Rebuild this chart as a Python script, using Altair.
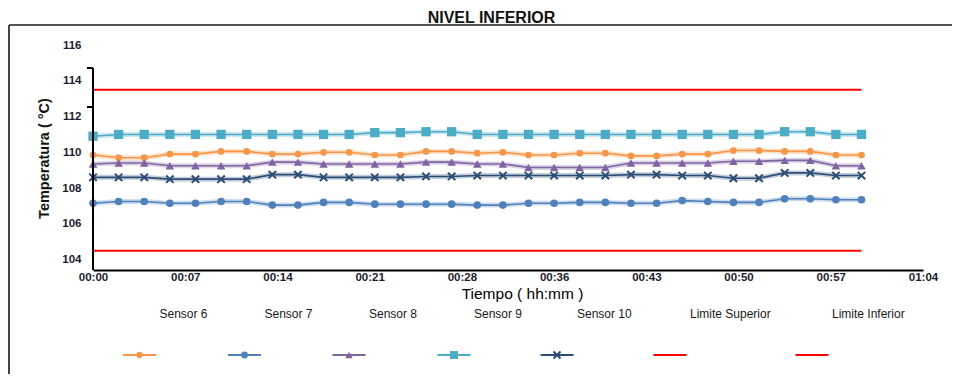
import altair as alt
import pandas as pd

# ---------------- data ----------------
minutes = [0, 2, 4, 6, 8, 10, 12, 14, 16, 18, 20, 22, 24, 26, 28, 30,
           32, 34, 36, 38, 40, 42, 44, 46, 48, 50, 52, 54, 56, 58, 60]

sensor6 = [109.85, 109.7, 109.7, 109.9, 109.9, 110.05, 110.05, 109.9, 109.9, 110.0, 110.0,
           109.85, 109.85, 110.05, 110.05, 109.95, 110.0, 109.85, 109.85, 109.95, 109.95,
           109.8, 109.8, 109.9, 109.9, 110.1, 110.1, 110.05, 110.05, 109.85, 109.85]
sensor7 = [107.15, 107.25, 107.25, 107.15, 107.15, 107.25, 107.25, 107.05, 107.05, 107.2, 107.2,
           107.1, 107.1, 107.1, 107.1, 107.05, 107.05, 107.15, 107.15, 107.2, 107.2,
           107.15, 107.15, 107.3, 107.25, 107.2, 107.2, 107.4, 107.4, 107.35, 107.35]
sensor8 = [109.35, 109.4, 109.4, 109.25, 109.25, 109.25, 109.25, 109.45, 109.45, 109.35, 109.35,
           109.35, 109.35, 109.45, 109.45, 109.35, 109.35, 109.15, 109.15, 109.15, 109.15,
           109.4, 109.4, 109.4, 109.4, 109.5, 109.5, 109.55, 109.55, 109.25, 109.25]
sensor9 = [110.9, 111.0, 111.0, 111.0, 111.0, 111.0, 111.0, 111.0, 111.0, 111.0, 111.0,
           111.1, 111.1, 111.15, 111.15, 111.0, 111.0, 111.0, 111.0, 111.0, 111.0,
           111.0, 111.0, 111.0, 111.0, 111.0, 111.0, 111.15, 111.15, 111.0, 111.0]
sensor10 = [108.6, 108.6, 108.6, 108.5, 108.5, 108.5, 108.5, 108.75, 108.75, 108.6, 108.6,
            108.6, 108.6, 108.65, 108.65, 108.7, 108.7, 108.7, 108.7, 108.7, 108.7,
            108.75, 108.75, 108.7, 108.7, 108.55, 108.55, 108.85, 108.85, 108.7, 108.7]

limite_superior = 113.5
limite_inferior = 104.5
limit_minutes = [0, 60]

tick_minutes = [0, 7.2, 14.4, 21.6, 28.8, 36.0, 43.2, 50.4, 57.6, 64.8]
tick_labels = ["00:00", "00:07", "00:14", "00:21", "00:28", "00:36",
               "00:43", "00:50", "00:57", "01:04"]
y_ticks = [104, 106, 108, 110, 112, 114, 116]

series_names = ["Sensor 6", "Sensor 7", "Sensor 8", "Sensor 9", "Sensor 10"]
series_colors = ["#F79646", "#4F81BD", "#8064A2", "#4BACC6", "#2C4D75"]
limit_names = ["Limite Superior", "Limite Inferior"]
limit_color = "#FF0000"

legend_names = series_names + limit_names
legend_colors = series_colors + [limit_color, limit_color]
legend_slots = [0, 1, 2, 3, 4, 5, 6]

X_PATH = "M-1,-1L1,1M-1,1L1,-1"
shape_range = ["circle", "circle", "triangle-up", "square", X_PATH]
size_range = [45, 100, 75, 100, 55]
legend_size_range = [40, 70, 60, 55, 49]

# ---------------- tables ----------------
values = [sensor6, sensor7, sensor8, sensor9, sensor10]
rows = []
for name, vals in zip(series_names, values):
    for m, v in zip(minutes, vals):
        rows.append({"minute": m, "value": v, "series": name})
df = pd.DataFrame(rows)

lim_rows = []
for name, v in zip(limit_names, [limite_superior, limite_inferior]):
    for m in limit_minutes:
        lim_rows.append({"minute": m, "value": v, "series": name})
df_lim = pd.DataFrame(lim_rows)

df_leg = pd.DataFrame({"name": legend_names, "slot": legend_slots})
df_one = pd.DataFrame({"a": [0]})

label_expr = " : ".join(f"datum.value == {v} ? '{l}'" for v, l in zip(tick_minutes, tick_labels)) + " : ''"

FONT = "Liberation Sans"
LABEL_COLOR = "#1c1c30"

x_enc = alt.X(
    "minute:Q",
    title="Tiempo ( hh:mm )",
    scale=alt.Scale(domain=[0, 64.8], nice=False, zero=False),
    axis=alt.Axis(
        values=tick_minutes, labelExpr=label_expr, grid=False, ticks=False,
        domainColor="#000000", domainWidth=2, labelPadding=1,
        labelFont=FONT, labelFontSize=11.5, labelFontWeight="bold", labelColor=LABEL_COLOR,
        labelFlush=False, labelOverlap=False, labelBound=False,
        titleFont=FONT, titleFontSize=15.5, titleFontWeight="normal", titleColor="#000000",
        titleX=429, titleY=28, titleBaseline="alphabetic",
    ),
)
y_enc = alt.Y(
    "value:Q",
    title="Temperatura ( °C)",
    scale=alt.Scale(domain=[103.42, 116], nice=False, zero=False),
    axis=alt.Axis(
        values=y_ticks, grid=False, ticks=False, domain=False, labelPadding=12,
        labelFont=FONT, labelFontSize=11.5, labelFontWeight="bold", labelColor=LABEL_COLOR,
        titleFont=FONT, titleFontSize=14.5, titleFontWeight="bold", titleColor="#111111",
        titleX=-49, titleY=113, titleAngle=-90, titleAlign="center", titleBaseline="middle",
    ),
)
color_enc = alt.Color("series:N", scale=alt.Scale(domain=series_names, range=series_colors), legend=None)

base = alt.Chart(df)
halo = base.mark_line(strokeWidth=5, opacity=0.28).encode(x=x_enc, y=y_enc, color=color_enc, detail="series:N")
line = base.mark_line(strokeWidth=1.6).encode(x=x_enc, y=y_enc, color=color_enc, detail="series:N")
pts = base.transform_filter(alt.datum.series != "Sensor 10").mark_point(filled=True, opacity=1).encode(
    x=x_enc, y=y_enc, color=color_enc,
    shape=alt.Shape("series:N", scale=alt.Scale(domain=series_names, range=shape_range), legend=None),
    size=alt.Size("series:N", scale=alt.Scale(domain=series_names, range=size_range), legend=None),
)
pts_x = base.transform_filter(alt.datum.series == "Sensor 10").mark_point(
    shape=X_PATH, filled=False, strokeWidth=2, size=55, opacity=1
).encode(x=x_enc, y=y_enc, color=color_enc)
limits = alt.Chart(df_lim).mark_line(strokeWidth=2, color=limit_color).encode(
    x=x_enc, y=y_enc, detail="series:N"
)
main = alt.layer(halo, line, pts, pts_x, limits)

# ---------------- legend (own piecewise scale) ----------------
leg_x = alt.X("slot:Q", scale=alt.Scale(domain=legend_slots, range=[46.5, 151.5, 256, 361, 464, 577, 719],
                                        nice=False, zero=False), axis=None)
leg_color = alt.Color("name:N", scale=alt.Scale(domain=legend_names, range=legend_colors), legend=None)
lbase = alt.Chart(df_leg)
leg_text = lbase.mark_text(align="left", baseline="middle", dx=20, font=FONT, fontSize=12,
                           color="#1a1a1a").encode(x=leg_x, y=alt.value(269), text="name:N")
leg_line = lbase.mark_point(shape="M-1,0L1,0", filled=False, strokeWidth=2, size=1089, opacity=1).encode(
    x=leg_x, y=alt.value(310), color=leg_color)
leg_pts = lbase.transform_filter(
    alt.FieldOneOfPredicate(field="name", oneOf=series_names[:4])
).mark_point(filled=True, opacity=1).encode(
    x=leg_x, y=alt.value(310), color=leg_color,
    shape=alt.Shape("name:N", scale=alt.Scale(domain=series_names, range=shape_range), legend=None),
    size=alt.Size("name:N", scale=alt.Scale(domain=series_names, range=legend_size_range), legend=None),
)
leg_x_pts = lbase.transform_filter(alt.datum.name == "Sensor 10").mark_point(
    shape=X_PATH, filled=False, strokeWidth=2, size=49, opacity=1
).encode(x=leg_x, y=alt.value(310), color=leg_color)
legend = alt.layer(leg_text, leg_line, leg_pts, leg_x_pts)

# ---------------- decoration ----------------
one = alt.Chart(df_one)
title = one.mark_text(text="NIVEL INFERIOR", font=FONT, fontSize=16, fontWeight="bold",
                      align="center", baseline="alphabetic", color="#111111").encode(
    x=alt.value(398.5), y=alt.value(-22.5))
box_top = one.mark_rule(color="#555555", strokeWidth=2).encode(x=alt.value(-84), x2=alt.value(860), y=alt.value(-20))
box_left = one.mark_rule(color="#444444", strokeWidth=2).encode(x=alt.value(-84), y=alt.value(-20), y2=alt.value(331))
y_axis_line = one.mark_rule(color="#000000", strokeWidth=2).encode(x=alt.value(0), y=alt.value(23), y2=alt.value(225))
y_tick1 = one.mark_rule(color="#000000", strokeWidth=2).encode(x=alt.value(-6), x2=alt.value(0), y=alt.value(23))
y_tick2 = one.mark_rule(color="#000000", strokeWidth=2).encode(x=alt.value(-6), x2=alt.value(0), y=alt.value(62))
deco = alt.layer(title, box_top, box_left, y_axis_line, y_tick1, y_tick2)

chart = alt.layer(main, legend, deco).resolve_scale(
    x="independent", y="independent", color="independent", shape="independent", size="independent"
).properties(
    width=830, height=225,
    padding={"left": 85, "top": 37, "right": 29, "bottom": 104},
    autosize=alt.AutoSizeParams(type="none"),
    background="#ffffff",
).configure_view(stroke=None)

chart.save("out.html", embed_options={"renderer": "svg", "actions": False})
